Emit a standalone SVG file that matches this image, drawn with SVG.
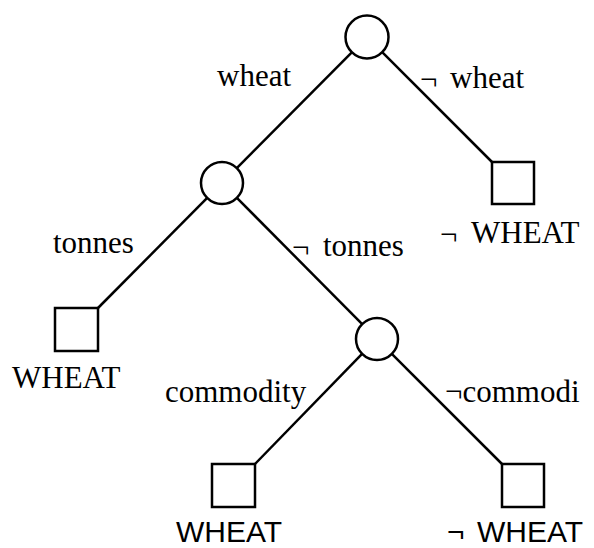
<svg xmlns="http://www.w3.org/2000/svg" width="594" height="548" viewBox="0 0 594 548">
<style>
.n{fill:#fff;stroke:#000;stroke-width:2.5}
.e{stroke:#000;stroke-width:2.5;fill:none}
.t{font-family:"Liberation Serif",serif;font-size:31px;fill:#000}
.s{font-family:"Liberation Sans",sans-serif;font-size:30px;fill:#000}
</style>
<rect width="594" height="548" fill="#fff"/>
<g id="connectors">
<line class="e" x1="351.8" y1="52.3" x2="236.8" y2="168.1"/>
<line class="e" x1="382.2" y1="52.2" x2="492" y2="162"/>
<line class="e" x1="207.2" y1="197.9" x2="98" y2="308"/>
<line class="e" x1="236.9" y1="197.9" x2="362.2" y2="324.1"/>
<line class="e" x1="362.3" y1="353.7" x2="255" y2="464"/>
<line class="e" x1="391.8" y1="353.8" x2="502" y2="464"/>
<text class="t" x="217" y="86">wheat</text>
<text class="t" x="420" y="90">¬<tspan x="450" y="88">wheat</tspan></text>
<text class="t" x="53" y="253">tonnes</text>
<text class="t" x="292" y="258">¬<tspan x="323" y="256">tonnes</tspan></text>
<text class="t" x="165" y="402">commodity</text>
<text class="t" x="445" y="402">¬commodi</text>
</g>
<g id="n_root"><circle class="n" cx="367" cy="37" r="21.5"/></g>
<g id="n_wheat"><circle class="n" cx="222" cy="183" r="21"/></g>
<g id="n_notwheat"><rect class="n" x="492" y="162" width="42" height="42"/><text class="t" x="440" y="245">¬<tspan x="471" y="243">WHEAT</tspan></text></g>
<g id="n_tonnes"><rect class="n" x="55" y="308" width="43" height="43"/><text class="t" x="12" y="388">WHEAT</text></g>
<g id="n_nottonnes"><circle class="n" cx="377" cy="339" r="21"/></g>
<g id="n_commodity"><rect class="n" x="212" y="464" width="43" height="43"/><text class="s" x="176" y="542">WHEAT</text></g>
<g id="n_notcommodity"><rect class="n" x="502" y="464" width="42" height="43"/><text class="s" x="447" y="542">¬<tspan x="477">WHEAT</tspan></text></g>
</svg>
